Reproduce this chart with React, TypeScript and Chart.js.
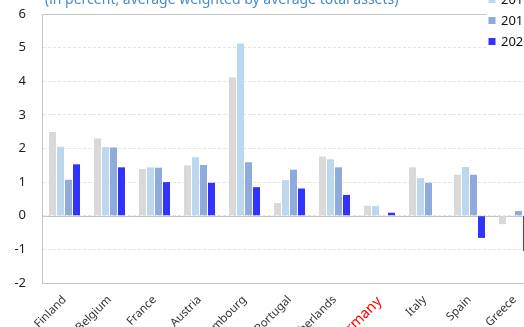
import React, { useEffect, useRef } from "react";
import { Chart, registerables } from "chart.js";

Chart.register(...registerables);

const categories = ["Finland", "Belgium", "France", "Austria", "Luxembourg", "Portugal", "Netherlands", "Germany", "Italy", "Spain", "Greece"];
const seriesLabels = ["2017", "2018", "2019", "2020"];
const s2017 = [2.49, 2.3, 1.39, 1.5, 4.11, 0.38, 1.76, 0.3, 1.44, 1.22, -0.25];
const s2018 = [2.05, 2.04, 1.44, 1.74, 5.12, 1.06, 1.68, 0.29, 1.12, 1.45, -0.03];
const s2019 = [1.07, 2.03, 1.43, 1.51, 1.59, 1.37, 1.44, null, 0.98, 1.22, 0.14];
const s2020 = [1.53, 1.44, 1.0, 0.98, 0.85, 0.81, 0.62, 0.09, null, -0.66, -1.05];
const seriesColors = ["#d9d9d9", "#bdd7ee", "#8faadc", "#3333ff"];
const yTicks = [-2, -1, 0, 1, 2, 3, 4, 5, 6];
const subtitle = "(in percent, average weighted by average total assets)";
const highlighted = "Germany";

const FONT = "'Noto Sans', 'Open Sans', sans-serif";

export default function App() {
  const ref = useRef<HTMLCanvasElement | null>(null);
  useEffect(() => {
    if (!ref.current) return;
    const overlay = {
      id: "overlay",
      beforeDatasetsDraw(chart: any) {
        const { ctx, chartArea, scales } = chart;
        ctx.save();
        ctx.strokeStyle = "#c4c4c4";
        ctx.lineWidth = 1;
        const y0 = Math.round(scales.y.getPixelForValue(0)) + 0.5;
        const yt = Math.round(chartArea.top) + 0.5;
        ctx.beginPath();
        ctx.moveTo(chartArea.left, y0);
        ctx.lineTo(chartArea.right, y0);
        ctx.moveTo(chartArea.left, yt);
        ctx.lineTo(chartArea.right, yt);
        ctx.stroke();
        ctx.restore();
      },
      afterDraw(chart: any) {
        const { ctx, chartArea } = chart;
        ctx.save();
        // title
        ctx.font = `14px ${FONT}`;
        ctx.fillStyle = "#4a8ac6";
        ctx.textBaseline = "alphabetic";
        ctx.textAlign = "left";
        ctx.fillText(subtitle, chartArea.left + 3, chartArea.top - 10);
        // legend box
        const lx = chartArea.left + 444.5;
        ctx.fillStyle = "#ffffff";
        ctx.fillRect(lx, 0, chart.width - lx, chartArea.top + 37);
        seriesLabels.forEach((lab, i) => {
          const cy = chartArea.top - 35.5 + 21 * i;
          ctx.fillStyle = seriesColors[i];
          ctx.fillRect(lx + 2, cy - 3.5, 7, 7);
          ctx.fillStyle = "#111";
          ctx.font = `13px ${FONT}`;
          ctx.textBaseline = "middle";
          ctx.fillText(lab, lx + 14.5, cy + 0.5);
        });
        ctx.restore();
      },
    };
    const hiIndex = categories.indexOf(highlighted);
    const chart = new Chart(ref.current, {
      type: "bar",
      data: {
        labels: categories,
        datasets: [s2017, s2018, s2019, s2020].map((d, i) => ({
          label: seriesLabels[i],
          data: d,
          backgroundColor: seriesColors[i],
          borderWidth: 0,
          barPercentage: 0.88,
          categoryPercentage: 0.711,
        })),
      },
      options: {
        responsive: false,
        animation: false,
        devicePixelRatio: 1,
        layout: { padding: { top: 38, left: 0, right: 23, bottom: 0 } },
        plugins: { legend: { display: false }, tooltip: { enabled: false }, title: { display: false } },
        scales: {
          x: {
            grid: { display: false, drawTicks: false },
            border: { display: true, color: "#c4c4c4" },
            afterFit: (s: any) => { s.height = 60; },
            ticks: {
              autoSkip: false,
              minRotation: 45,
              maxRotation: 45,
              padding: 10,
              font: (c: any) => ({ family: FONT, size: c.index === hiIndex ? 14.5 : 11.5 }),
              color: (c: any) => (c.index === hiIndex ? "#ff0000" : "#333333"),
            },
          },
          y: {
            min: -2,
            max: 6,
            afterFit: (s: any) => { s.width = 42; },
            afterBuildTicks: (s: any) => { s.ticks = yTicks.map((v) => ({ value: v })); },
            grid: { color: "#e4e4e4", drawTicks: false },
            border: { display: true, color: "#c4c4c4", dash: [3, 2] },
            ticks: {
              padding: 16,
              font: { family: FONT, size: 13 },
              color: "#222222",
            },
          },
        },
      },
      plugins: [overlay],
    });
    return () => chart.destroy();
  }, []);
  return (
    <div style={{ position: "fixed", left: 0, top: 0, width: 524, height: 327, overflow: "hidden", background: "#fff" }}>
      <canvas ref={ref} width={560} height={367} style={{ position: "absolute", left: 0, top: -24, width: 560, height: 367 }} />
    </div>
  );
}
